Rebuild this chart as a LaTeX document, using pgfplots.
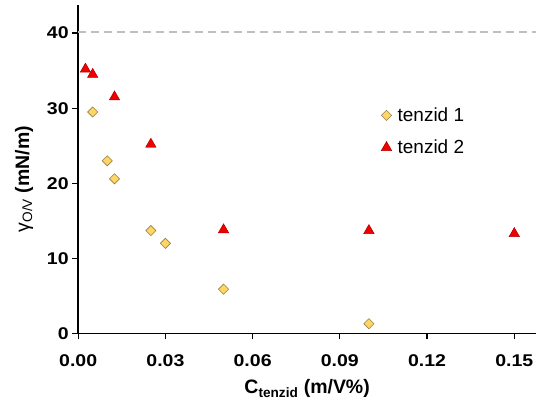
\documentclass[border=0pt]{standalone}
\usepackage{pgfplots}
\pgfplotsset{compat=1.18}
\usepackage{fontspec}
\setmainfont{Liberation Sans}
\newfontfamily\tickfont[FakeStretch=1.15]{Liberation Sans}
\definecolor{dfill}{RGB}{255,214,102}
\definecolor{ddraw}{RGB}{150,128,70}
\definecolor{tfill}{RGB}{240,0,0}
\definecolor{tdraw}{RGB}{170,0,0}
\definecolor{dashgray}{RGB}{191,191,191}
\begin{document}
\begin{tikzpicture}
\begin{axis}[
  scale only axis,
  width=458.7pt, height=329pt,
  xmin=0, xmax=0.1575, ymin=0, ymax=43.75,
  axis x line=bottom, axis y line=left,
  axis line style={-, line width=1.6pt, black},
  tick style={black, line width=1.3pt},
  tick align=outside, major tick length=6pt,
  xtick={0,0.03,0.06,0.09,0.12,0.15},
  ytick={0,10,20,30,40},
  minor tick num=0,
  /pgf/number format/assume math mode=true,
  ticklabel style={font=\tickfont\bfseries\fontsize{17}{19}\selectfont},
  xticklabel style={yshift=-12pt, /pgf/number format/.cd, fixed, fixed zerofill, precision=2},
  yticklabel style={/pgf/number format/.cd, fixed, precision=0},
  scaled x ticks=false,
  xlabel={\bfseries C\textsubscript{tenzid} (m/V\%)},
  ylabel={γ\textsubscript{O/V} \bfseries(mN/m)},
  label style={font=\fontsize{19.5}{21}\selectfont},
  xlabel style={yshift=-6pt},
  ylabel style={yshift=7pt, xshift=-10pt},
  clip=false,
  legend style={draw=none, fill=none, at={(0.655,0.70)}, anchor=north west,
    font=\fontsize{19}{21}\selectfont, row sep=13pt},
  legend cell align=left,
]
\addplot[dashgray, line width=1.8pt, dash pattern=on 8pt off 5pt, forget plot] coordinates {(0,40.2) (0.1575,40.2)};
\addplot[only marks, mark=square*, mark size=3.6pt, mark options={rotate=45, fill=dfill, draw=ddraw, line width=0.6pt}] coordinates {
(0.005,29.5) (0.01,23.0) (0.0125,20.6) (0.025,13.7) (0.03,12.0) (0.05,5.9) (0.1,1.3)};
\addlegendentry{\hspace{4pt}tenzid 1}
\addplot[only marks, mark=triangle*, mark size=6pt, mark options={fill=tfill, draw=tdraw, line width=0.5pt}] coordinates {
(0.0025,35.2) (0.005,34.5) (0.0125,31.5) (0.025,25.2) (0.05,13.8) (0.1,13.7) (0.15,13.3)};
\addlegendentry{\hspace{4pt}tenzid 2}
\end{axis}
\path[use as bounding box] ([xshift=-78.3pt,yshift=-67pt]current axis.south west) rectangle ++(537pt,401pt);
\end{tikzpicture}
\end{document}
